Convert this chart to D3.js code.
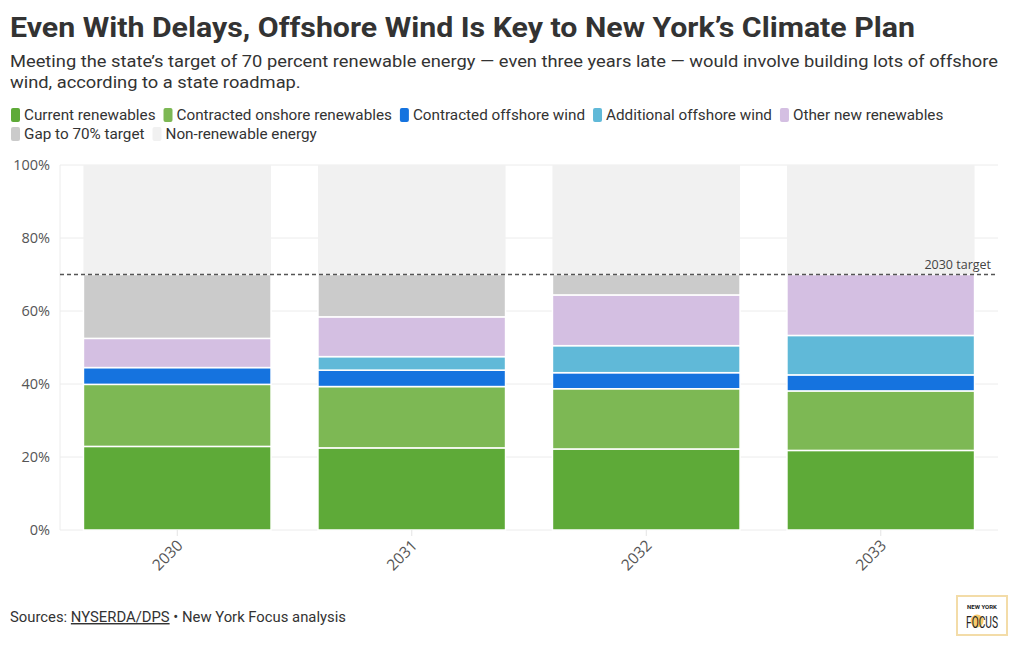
<!DOCTYPE html>
<html>
<head>
<meta charset="utf-8">
<script src="https://cdn.jsdelivr.net/npm/d3@7"></script>
<style>
  body { margin: 0; background: #fff; }
  svg { display: block; font-family: Roboto, "Noto Sans", sans-serif; }
</style>
</head>
<body>
<svg id="chart" width="1020" height="650"></svg>
<script>
const years = ['2030', '2031', '2032', '2033'];
const seriesNames = ['Current renewables', 'Contracted onshore renewables', 'Contracted offshore wind',
  'Additional offshore wind', 'Other new renewables', 'Gap to 70% target', 'Non-renewable energy'];
const seriesColors = ['#5eaa38', '#7db854', '#1573df', '#60b9d8', '#d4bfe2', '#cbcbcb', '#f1f1f1'];
const currentRenewables = [22.9, 22.5, 22.2, 21.8];
const contractedOnshore = [17.0, 16.8, 16.5, 16.3];
const contractedOffshore = [4.6, 4.5, 4.4, 4.4];
const additionalOffshore = [0, 3.7, 7.4, 10.8];
const otherNew = [8.0, 10.9, 13.9, 16.7];
const gapToTarget = [17.5, 11.6, 5.6, 0];
const nonRenewable = [30, 30, 30, 30];
const yTicks = [0, 20, 40, 60, 80, 100];
const target = 70;

const svg = d3.select('#chart');

// squeeze text horizontally so the wide fallback fonts look like the condensed original
function condense(sel, k) {
  sel.each(function () {
    const w = this.getComputedTextLength();
    d3.select(this).attr('textLength', w * k).attr('lengthAdjust', 'spacingAndGlyphs');
  });
}

// header
const title = svg.append('text').attr('x', 10).attr('y', 37)
  .attr('font-size', 28).attr('font-weight', 700).attr('fill', '#333')
  .text('Even With Delays, Offshore Wind Is Key to New York’s Climate Plan');
title.attr('textLength', 905).attr('lengthAdjust', 'spacingAndGlyphs');

const subLines = ['Meeting the state’s target of 70 percent renewable energy — even three years late — would involve building lots of offshore',
  'wind, according to a state roadmap.'];
const sub = svg.selectAll('.sub').data(subLines).join('text').attr('class', 'sub')
  .attr('x', 10).attr('y', (d, i) => 67 + i * 21)
  .attr('font-size', 17).attr('fill', '#333').text(d => d);
const subK = 988 / sub.nodes()[0].getComputedTextLength();
condense(sub, subK);

// legend
const legendK = subK * 0.978;
const legendRows = [[0, 1, 2, 3, 4], [5, 6]];
legendRows.forEach((row, r) => {
  let x = 11;
  row.forEach(i => {
    const g = svg.append('g').attr('transform', `translate(${x}, ${115 + r * 19})`);
    g.append('rect').attr('x', 0).attr('y', -7).attr('width', 9).attr('height', 14).attr('rx', 2)
      .attr('fill', seriesColors[i]);
    const t = g.append('text').attr('x', 13).attr('y', 5).attr('font-size', 14.5).attr('fill', '#333')
      .text(seriesNames[i]);
    const w = t.node().getComputedTextLength() * legendK;
    t.attr('textLength', w).attr('lengthAdjust', 'spacingAndGlyphs');
    x += 13 + w + 8;
  });
});

// chart
const margin = { left: 60, right: 22, top: 165, bottom: 120 };
const x = d3.scaleBand().domain(years).range([margin.left, 1020 - margin.right])
  .paddingInner(0.2).paddingOuter(0.1);
const y = d3.scaleLinear().domain([0, 100]).range([650 - margin.bottom, margin.top]);

const grid = svg.append('g');
grid.selectAll('line').data(yTicks).join('line')
  .attr('x1', margin.left).attr('x2', 1020 - margin.right)
  .attr('y1', d => y(d)).attr('y2', d => y(d))
  .attr('stroke', '#ececec');
grid.append('line').attr('x1', margin.left).attr('x2', margin.left)
  .attr('y1', y(0)).attr('y2', y(100)).attr('stroke', '#ececec');

const yAxis = svg.append('g').attr('transform', `translate(${margin.left - 10}, 0)`)
  .call(d3.axisLeft(y).tickValues(yTicks).tickFormat(d => d + '%').tickSize(0).tickPadding(0));
yAxis.select('.domain').remove();
yAxis.selectAll('text').attr('font-size', 14.5).attr('fill', '#555')
  .attr('font-family', '"Open Sans", sans-serif');

const table = years.map((yr, i) => ({
  year: yr,
  s0: currentRenewables[i], s1: contractedOnshore[i], s2: contractedOffshore[i],
  s3: additionalOffshore[i], s4: otherNew[i], s5: gapToTarget[i], s6: nonRenewable[i]
}));
const stack = d3.stack().keys(['s0', 's1', 's2', 's3', 's4', 's5', 's6'])(table);

svg.append('g').selectAll('g').data(stack).join('g')
  .attr('fill', (d, i) => seriesColors[i])
  .selectAll('rect').data(d => d.filter(p => p[1] - p[0] > 0)).join('rect')
  .attr('x', d => x(d.data.year))
  .attr('width', x.bandwidth())
  .attr('y', d => y(d[1]))
  .attr('height', d => y(d[0]) - y(d[1]))
  .attr('stroke', '#fff').attr('stroke-width', d => d[1] >= 100 ? 0 : 1.5);

const xAxis = svg.append('g').attr('transform', `translate(0, ${y(0)})`)
  .call(d3.axisBottom(x).tickSize(6).tickPadding(0));
xAxis.select('.domain').remove();
xAxis.selectAll('line').attr('stroke', '#e4e4e4');
xAxis.selectAll('text').attr('font-size', 15.5).attr('fill', '#555')
  .attr('font-family', '"Open Sans", sans-serif')
  .attr('text-anchor', 'middle').attr('dy', null)
  .attr('transform', 'translate(-9, 26) rotate(-45)')
  .attr('y', 0).attr('dominant-baseline', 'middle');

// target line
svg.append('line').attr('x1', margin.left).attr('x2', 1020 - margin.right)
  .attr('y1', y(target)).attr('y2', y(target))
  .attr('stroke', '#555').attr('stroke-width', 1.5).attr('stroke-dasharray', '4,3');
svg.append('text').attr('x', 991).attr('y', y(target) - 6).attr('text-anchor', 'end')
  .attr('font-size', 12.5).attr('fill', '#444').attr('font-family', '"Open Sans", sans-serif')
  .text('2030 target');

// footer
const src = svg.append('text').attr('x', 10).attr('y', 622).attr('font-size', 14.5).attr('fill', '#333');
src.append('tspan').text('Sources: ');
src.append('tspan').attr('text-decoration', 'underline').text('NYSERDA/DPS');
src.append('tspan').text(' • New York Focus analysis');
condense(src, subK * 0.95);

// logo
const logo = svg.append('g').attr('transform', 'translate(957, 596)');
logo.append('rect').attr('width', 50).attr('height', 39).attr('fill', '#fff')
  .attr('stroke', '#f3dca8').attr('stroke-width', 2);
logo.append('text').attr('x', 25).attr('y', 13).attr('text-anchor', 'middle')
  .attr('font-size', 6).attr('font-weight', 700).attr('fill', '#222').text('NEW YORK');
logo.append('circle').attr('cx', 20).attr('cy', 25).attr('r', 6.5).attr('fill', '#f7c96b');
logo.append('text').attr('x', 25).attr('y', 32).attr('text-anchor', 'middle')
  .attr('font-size', 16).attr('fill', '#222').attr('textLength', 32).attr('lengthAdjust', 'spacingAndGlyphs')
  .text('FOCUS');
</script>
</body>
</html>
